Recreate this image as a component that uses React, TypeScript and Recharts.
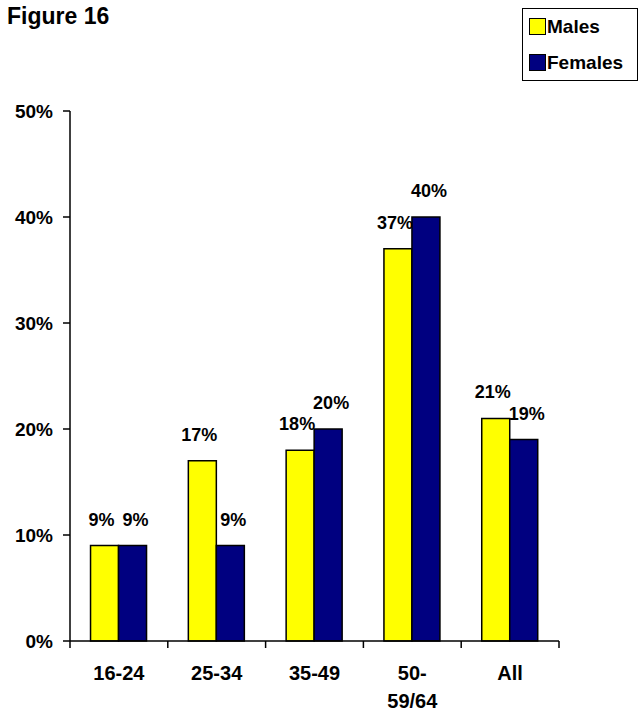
import { BarChart, Bar, XAxis, YAxis, LabelList } from "recharts";

const categories = ["16-24", "25-34", "35-49", "50-\n59/64", "All"];
const males = [9, 17, 18, 37, 21];
const females = [9, 9, 20, 40, 19];
const yTicks = [0, 10, 20, 30, 40, 50];

const series = [
  { key: "males", name: "Males", color: "#FFFF00", labelShift: -3 },
  { key: "females", name: "Females", color: "#000080", labelShift: 3 },
];

const data = categories.map((category, i) => ({
  category,
  males: males[i],
  females: females[i],
}));

const W = 642;
const H = 711;
const MARGIN = { top: 111, right: 83, bottom: 0, left: 0 };
const Y_AXIS_W = 70;
const X_AXIS_H = 70;
const PLOT_BOTTOM = H - MARGIN.bottom - X_AXIS_H;
const PLOT_W = W - MARGIN.right - Y_AXIS_W - MARGIN.left;
const FONT = "'Liberation Sans', Arial, sans-serif";

const pct = (v: any) => `${v}%`;

// category labels sit under the bands, tick marks go on the band edges (Excel style)
const CategoryTick = (props: any) => {
  const { x, payload, index, visibleTicksCount } = props;
  const count = visibleTicksCount || categories.length;
  const half = PLOT_W / count / 2;
  const lines = String(payload.value).split("\n");
  return (
    <g>
      <line
        x1={x - half}
        x2={x - half}
        y1={PLOT_BOTTOM}
        y2={PLOT_BOTTOM + 7}
        stroke="#000"
        strokeWidth={1.5}
      />
      {index === count - 1 && (
        <line
          x1={x + half}
          x2={x + half}
          y1={PLOT_BOTTOM}
          y2={PLOT_BOTTOM + 7}
          stroke="#000"
          strokeWidth={1.5}
        />
      )}
      <text
        x={x}
        y={PLOT_BOTTOM + 39}
        textAnchor="middle"
        fill="#000"
        fontFamily={FONT}
        fontWeight="bold"
        fontSize={20}
      >
        {lines.map((line, i) => (
          <tspan key={i} x={x} dy={i === 0 ? 0 : 28}>
            {line}
          </tspan>
        ))}
      </text>
    </g>
  );
};

function ChartLegend() {
  return (
    <div
      style={{
        position: "absolute",
        left: 522,
        top: 8,
        width: 116,
        height: 73,
        boxSizing: "border-box",
        border: "1.5px solid #000",
        background: "#fff",
      }}
    >
      {series.map((s, i) => (
        <div
          key={s.key}
          style={{
            position: "absolute",
            left: 6,
            top: 9 + i * 36,
            height: 17,
            display: "flex",
            alignItems: "center",
          }}
        >
          <div
            style={{
              width: 17,
              height: 17,
              boxSizing: "border-box",
              background: s.color,
              border: "1.5px solid #000",
            }}
          />
          <span
            style={{
              marginLeft: 1,
              fontFamily: FONT,
              fontWeight: "bold",
              fontSize: 19,
              lineHeight: "17px",
            }}
          >
            {s.name}
          </span>
        </div>
      ))}
    </div>
  );
}

export default function App() {
  return (
    <div style={{ position: "relative", width: W, height: H, background: "#fff" }}>
      <style>{"body{margin:0}"}</style>
      <div
        style={{
          position: "absolute",
          left: 7,
          top: 5,
          fontFamily: FONT,
          fontWeight: "bold",
          fontSize: 23,
          lineHeight: "23px",
        }}
      >
        Figure 16
      </div>
      <ChartLegend />
      <BarChart
        width={W}
        height={H}
        data={data}
        margin={MARGIN}
        barCategoryGap="21%"
        barGap={0}
      >
        <XAxis
          dataKey="category"
          tick={<CategoryTick />}
          tickLine={false}
          tickSize={0}
          tickMargin={0}
          axisLine={{ stroke: "#000", strokeWidth: 1.5 }}
          interval={0}
          height={X_AXIS_H}
        />
        <YAxis
          width={Y_AXIS_W}
          domain={[0, 50]}
          ticks={yTicks}
          tickFormatter={pct}
          tickSize={7}
          tickMargin={10}
          tick={{ fill: "#000", fontFamily: FONT, fontWeight: "bold", fontSize: 19 }}
          tickLine={{ stroke: "#000", strokeWidth: 1.5 }}
          axisLine={{ stroke: "#000", strokeWidth: 1.5 }}
        />
        {series.map((s) => (
          <Bar
            key={s.key}
            dataKey={s.key}
            name={s.name}
            fill={s.color}
            stroke="#000"
            strokeWidth={1.5}
            isAnimationActive={false}
          >
            <LabelList
              dataKey={s.key}
              position="top"
              offset={20}
              dx={s.labelShift}
              formatter={pct}
              fill="#000"
              fontFamily={FONT}
              fontWeight="bold"
              fontSize={18}
            />
          </Bar>
        ))}
      </BarChart>
    </div>
  );
}
